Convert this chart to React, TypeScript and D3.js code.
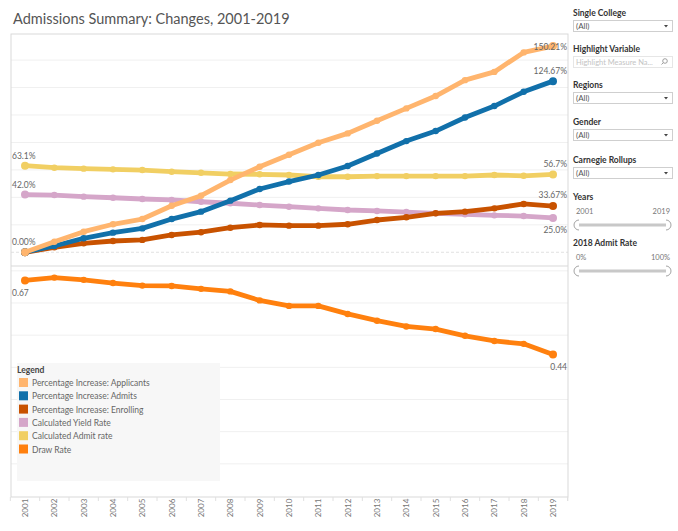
import React from 'react';
import * as d3 from 'd3';

const years = ['2001','2002','2003','2004','2005','2006','2007','2008','2009','2010','2011','2012','2013','2014','2015','2016','2017','2018','2019'];
const applicants = [0, 7.7, 15.0, 20.4, 24.2, 33.9, 41.2, 52.6, 62.3, 71.0, 79.8, 86.6, 95.8, 104.8, 113.8, 125.4, 131.4, 145.6, 150.21];
const admits = [0, 4.6, 10.2, 14.3, 17.4, 24.2, 29.6, 37.6, 46.1, 51.5, 56.3, 62.8, 72.0, 81.0, 88.3, 98.2, 106.5, 116.9, 124.67];
const enrolling = [0, 3.6, 6.5, 8.2, 9.0, 12.6, 14.6, 17.9, 19.9, 19.4, 19.4, 20.4, 23.5, 25.5, 28.4, 29.6, 32.0, 35.2, 33.67];
const yieldRate = [42.0, 41.7, 40.5, 39.7, 38.8, 38.1, 36.8, 35.7, 34.4, 33.2, 32.0, 30.8, 30.1, 29.3, 28.4, 27.7, 26.9, 26.4, 25.0];
const admitRate = [63.1, 61.6, 60.9, 60.4, 59.9, 58.7, 57.9, 57.0, 56.8, 56.3, 55.0, 55.0, 55.5, 55.5, 55.5, 55.5, 56.3, 55.7, 56.7];
const drawRate = [0.67, 0.679, 0.672, 0.662, 0.654, 0.653, 0.644, 0.636, 0.608, 0.591, 0.591, 0.566, 0.545, 0.527, 0.519, 0.498, 0.482, 0.473, 0.44];

const legendNames = ['Percentage Increase: Applicants', 'Percentage Increase: Admits', 'Percentage Increase: Enrolling', 'Calculated Yield Rate', 'Calculated Admit rate', 'Draw Rate'];
const colors = ['#ffb56e', '#1170aa', '#c85200', '#d5a6c9', '#f1cf63', '#ff800e'];
const filters = ['Single College', 'Highlight Variable', 'Regions', 'Gender', 'Carnegie Rollups'];

const FONT = 'Lato, "Open Sans", sans-serif';

export default function App() {
  const left = 11, right = 568, top = 34, mid = 266, bottom = 497;
  const x = d3.scalePoint<string>().domain(years).range([25, 553]);
  const yTop = d3.scaleLinear().domain([-10, 159]).range([mid, top]);
  const yBot = d3.scaleLinear().domain([0, 0.715]).range([bottom - 1, mid]);

  const lineTop = d3.line<number>().x((_, i) => x(years[i])!).y(d => yTop(d));
  const lineBot = d3.line<number>().x((_, i) => x(years[i])!).y(d => yBot(d));

  // draw order: back to front
  const topSeries = [
    { v: admitRate, c: colors[4] },
    { v: yieldRate, c: colors[3] },
    { v: enrolling, c: colors[2] },
    { v: admits, c: colors[1] },
    { v: applicants, c: colors[0] },
  ];

  const first = years[0], last = years[years.length - 1];
  const n = years.length - 1;
  const leftLabels = [
    { t: '63.1%', y: yTop(admitRate[0]) - 7 },
    { t: '42.0%', y: yTop(yieldRate[0]) - 7 },
    { t: '0.00%', y: yTop(0) - 7 },
    { t: '0.67', y: yBot(drawRate[0]) + 16 },
  ];
  const rightLabels = [
    { t: '150.21%', y: yTop(applicants[n]) + 4 },
    { t: '124.67%', y: yTop(admits[n]) - 7 },
    { t: '56.7%', y: yTop(admitRate[n]) - 7 },
    { t: '33.67%', y: yTop(enrolling[n]) - 8 },
    { t: '25.0%', y: yTop(yieldRate[n]) + 15 },
    { t: '0.44', y: yBot(drawRate[n]) + 16 },
  ];

  const step = x.step();
  const px = 573, pw = 99;

  return (
    <svg width={678} height={531} style={{ position: 'absolute', left: 0, top: 0, fontFamily: FONT }}>
      <rect width={678} height={531} fill="#fff" />
      <text x={13} y={24} fontSize={14.5} fill="#555">Admissions Summary: Changes, 2001-2019</text>

      {/* gridlines */}
      {d3.range(20, 160, 20).map(t => (
        <line key={'gt' + t} x1={left} x2={right} y1={yTop(t)} y2={yTop(t)} stroke="#f0f0f0" />
      ))}
      <line x1={left} x2={right} y1={yTop(0)} y2={yTop(0)} stroke="#e2e2e2" strokeDasharray="3,2" />
      {d3.range(0.1, 0.75, 0.1).map(t => (
        <line key={'gb' + t} x1={left} x2={right} y1={yBot(t)} y2={yBot(t)} stroke="#f0f0f0" />
      ))}

      {/* frame */}
      <rect x={left} y={top} width={right - left} height={bottom - top} fill="none" stroke="#d9d9d9" />
      <line x1={left} x2={right} y1={mid} y2={mid} stroke="#d9d9d9" />

      {/* legend */}
      <rect x={17} y={363} width={203} height={118} fill="#f7f7f7" />
      <text x={17} y={373} fontSize={8.5} fontWeight="bold" fill="#444">Legend</text>
      {legendNames.map((name, i) => (
        <g key={name} transform={`translate(19,${378 + i * 13.3})`}>
          <rect width={9} height={9} fill={colors[i]} />
          <text x={13} y={8} fontSize={8.5} fill="#666">{name}</text>
        </g>
      ))}

      {/* lines */}
      {topSeries.map((s, k) => (
        <g key={k}>
          <path d={lineTop(s.v)!} fill="none" stroke={s.c} strokeWidth={4.8} strokeLinejoin="round" />
          {s.v.map((d, i) => (
            <circle key={i} cx={x(years[i])} cy={yTop(d)} r={i === 0 || i === n ? 4 : 3.2} fill={s.c} />
          ))}
        </g>
      ))}
      <path d={lineBot(drawRate)!} fill="none" stroke={colors[5]} strokeWidth={4.8} strokeLinejoin="round" />
      {drawRate.map((d, i) => (
        <circle key={i} cx={x(years[i])} cy={yBot(d)} r={i === 0 || i === n ? 4 : 3.2} fill={colors[5]} />
      ))}

      {/* end labels */}
      {leftLabels.map(l => (
        <text key={l.t} x={left + 1} y={l.y} fontSize={8.5} fill="#666">{l.t}</text>
      ))}
      {rightLabels.map(l => (
        <text key={l.t} x={right - 1} y={l.y} fontSize={8.5} fill="#666" textAnchor="end">{l.t}</text>
      ))}

      {/* x axis */}
      {years.map(yr => (
        <g key={yr}>
          <line x1={x(yr)! + step / 2} x2={x(yr)! + step / 2} y1={bottom} y2={bottom + 4} stroke="#e0e0e0" />
          <text transform={`translate(${x(yr)! + 3},${bottom + 11}) rotate(-90)`} fontSize={8} fill="#777" textAnchor="middle">{yr}</text>
        </g>
      ))}
      <line x1={x(first)! - step / 2} x2={x(first)! - step / 2} y1={bottom} y2={bottom + 4} stroke="#e0e0e0" />
      <line x1={x(last)! + step / 2} x2={x(last)! + step / 2} y1={bottom} y2={bottom + 4} stroke="#e0e0e0" />

      {/* filter panel */}
      {filters.map((f, i) => {
        const ys = [16, 52, 88, 125, 163][i];
        const boxY = [20, 56, 92, 129, 167][i];
        const isSearch = f === 'Highlight Variable';
        return (
          <g key={f}>
            <text x={px} y={ys} fontSize={8.5} fontWeight="bold" fill="#333">{f}</text>
            <rect x={px + 0.5} y={boxY + 0.5} width={pw} height={11} fill="#fff" stroke={isSearch ? '#e6e6e6' : '#cfcfcf'} />
            {isSearch ? (
              <g>
                <text x={px + 3} y={boxY + 8.5} fontSize={7.5} fill="#c4c4c4">Highlight Measure Na...</text>
                <circle cx={px + pw - 7} cy={boxY + 5} r={2.3} fill="none" stroke="#888" strokeWidth={0.8} />
                <line x1={px + pw - 8.8} y1={boxY + 6.8} x2={px + pw - 10.5} y2={boxY + 8.5} stroke="#888" strokeWidth={0.8} />
              </g>
            ) : (
              <g>
                <text x={px + 3} y={boxY + 8.5} fontSize={8} fill="#555">(All)</text>
                <path d={`M${px + pw - 8},${boxY + 5} l4,0 l-2,2.5 z`} fill="#444" />
              </g>
            )}
          </g>
        );
      })}

      {[{ t: 'Years', a: '2001', b: '2019', y: 200 }, { t: '2018 Admit Rate', a: '0%', b: '100%', y: 246 }].map(s => (
        <g key={s.t}>
          <text x={px} y={s.y} fontSize={8.5} fontWeight="bold" fill="#333">{s.t}</text>
          <text x={px + 3} y={s.y + 14} fontSize={7.5} fill="#777">{s.a}</text>
          <text x={px + pw - 2} y={s.y + 14} fontSize={7.5} fill="#777" textAnchor="end">{s.b}</text>
          <line x1={px + 3} x2={px + pw - 3} y1={s.y + 25} y2={s.y + 25} stroke="#c8c8c8" strokeWidth={3} />
          <path d={`M${px + 6},${s.y + 20} a5,5 0 0 0 0,10`} fill="#fff" stroke="#999" strokeWidth={0.9} />
          <path d={`M${px + pw - 6},${s.y + 20} a5,5 0 0 1 0,10`} fill="#fff" stroke="#999" strokeWidth={0.9} />
        </g>
      ))}
    </svg>
  );
}
